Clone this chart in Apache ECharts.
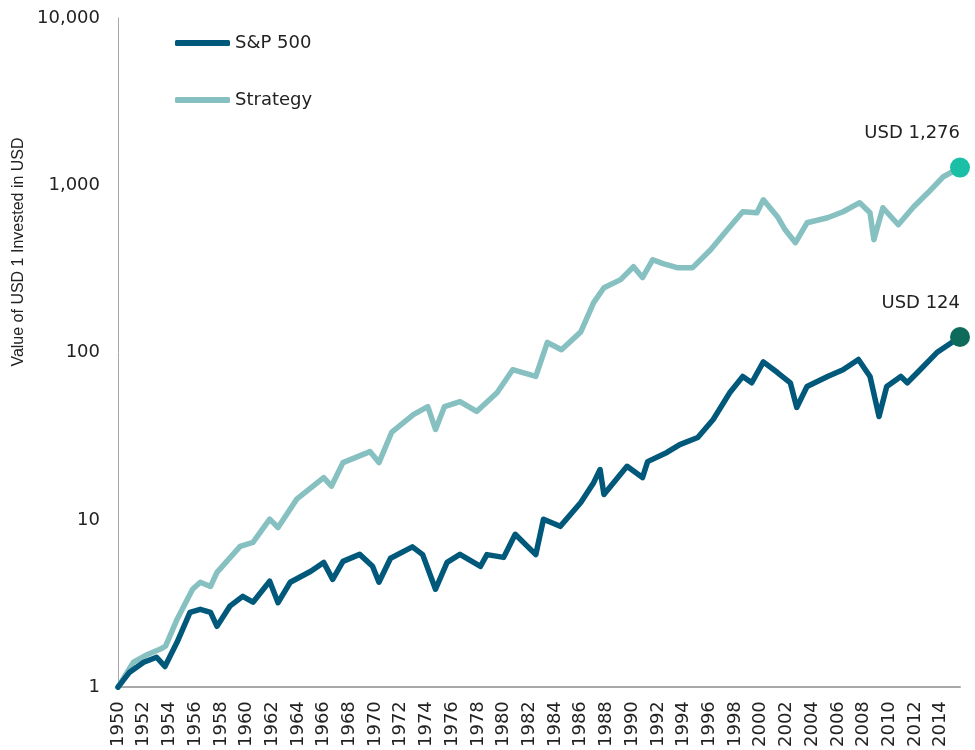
<!DOCTYPE html>
<html>
<head>
<meta charset="utf-8">
<title>Value of USD 1 Invested</title>
<script src="https://cdn.jsdelivr.net/npm/echarts@6/dist/echarts.min.js"></script>
<style>
  html, body { margin: 0; padding: 0; background: #fff; }
  #chart { width: 975px; height: 750px; }
</style>
</head>
<body>
<div id="chart"></div>
<script>
// S&P 500 (year, value of USD 1)
const spYears = [1950.0, 1950.9, 1952.0, 1953.0, 1953.65, 1954.6, 1955.6, 1956.4, 1957.2, 1957.7,
  1958.7, 1959.7, 1960.5, 1961.8, 1962.45, 1963.4, 1965.0, 1966.0, 1966.7, 1967.5,
  1968.8, 1969.8, 1970.3, 1971.2, 1972.9, 1973.7, 1974.7, 1975.6, 1976.6, 1978.2,
  1978.7, 1980.0, 1980.9, 1982.5, 1983.1, 1984.4, 1986.0, 1987.0, 1987.5, 1987.8,
  1989.6, 1990.8, 1991.2, 1992.7, 1993.7, 1995.1, 1996.3, 1997.6, 1998.6, 1999.3,
  2000.2, 2001.3, 2002.3, 2002.8, 2003.6, 2005.2, 2006.4, 2007.6, 2008.5, 2009.2,
  2009.8, 2010.9, 2011.4, 2012.4, 2013.7, 2015.5]
const spValues = [1.0, 1.23, 1.41, 1.51, 1.33, 1.86, 2.8, 2.92, 2.8, 2.31,
  3.05, 3.49, 3.22, 4.3, 3.2, 4.24, 4.93, 5.57, 4.41, 5.65,
  6.22, 5.28, 4.24, 5.9, 6.9, 6.2, 3.85, 5.57, 6.22, 5.28,
  6.2, 5.97, 8.2, 6.2, 10.1, 9.15, 12.7, 16.7, 20, 14.2,
  20.9, 17.9, 22.3, 25.3, 28.2, 31.1, 39.8, 57.7, 72, 66,
  88, 76, 66, 47, 62.7, 72, 79, 91, 72, 41.5,
  62.7, 72, 66, 79, 100, 124]

// Strategy
const stYears = [1950.0, 1951.2, 1952.3, 1953.3, 1953.7, 1954.6, 1955.8, 1956.4, 1957.2, 1957.7,
  1959.5, 1960.5, 1961.8, 1962.45, 1963.9, 1966.0, 1966.6, 1967.5, 1969.6, 1970.3,
  1971.3, 1973.0, 1974.1, 1974.7, 1975.4, 1976.6, 1977.9, 1979.5, 1980.7, 1982.5,
  1983.4, 1984.5, 1986.0, 1987.0, 1987.8, 1989.1, 1990.1, 1990.8, 1991.6, 1992.4,
  1993.5, 1994.7, 1996.1, 1997.4, 1998.6, 1999.7, 2000.2, 2001.3, 2001.9, 2002.7,
  2003.6, 2005.2, 2006.4, 2007.7, 2008.5, 2008.8, 2009.5, 2010.7, 2011.9, 2013.0,
  2014.2, 2015.5]
const stValues = [1.0, 1.41, 1.57, 1.69, 1.76, 2.55, 3.85, 4.24, 4.0, 4.86,
  6.95, 7.34, 10.1, 9.0, 13.3, 17.9, 15.9, 22, 25.6, 22,
  33.5, 42.7, 47.6, 34.7, 47.6, 51, 44.5, 57.7, 79, 72,
  115, 104, 133, 199, 244, 273, 326, 281, 359, 340,
  322, 322, 412, 542, 695, 685, 819, 649, 542, 454,
  597, 640, 695, 787, 685, 473, 734, 581, 745, 902,
  1125, 1276]

const seriesNames = ['S&P 500', 'Strategy']
const endLabels = ['USD 124', 'USD 1,276']
const yTicks = [1, 10, 100, 1000, 10000]

const chartInstance = echarts.init(document.getElementById('chart'))

const pairs = (xs, ys) => xs.map((x, i) => [x, ys[i]])

// big dot plus label on the last point
const endPoint = (xs, ys, text, color) => ({
  symbol: 'circle',
  symbolSize: 20,
  animation: false,
  data: [{
    coord: [xs[xs.length - 1], ys[ys.length - 1]],
    itemStyle: { color: color },
    label: {
      show: true,
      position: 'inside',
      offset: [0, -34],
      align: 'right',
      formatter: text,
      color: '#222',
      fontSize: 18,
      fontFamily: 'DejaVu Sans'
    }
  }]
})

const option = {
  animation: false,
  textStyle: { fontFamily: 'DejaVu Sans' },
  grid: { left: 118, right: 15, top: 18, bottom: 62 },
  legend: {
    orient: 'vertical',
    left: 175,
    top: 34,
    padding: 0,
    itemGap: 39,
    itemWidth: 55,
    itemHeight: 6,
    icon: 'roundRect',
    data: seriesNames,
    textStyle: { fontSize: 18, color: '#222', fontFamily: 'DejaVu Sans' }
  },
  xAxis: {
    type: 'value',
    min: 1950,
    max: 2015.5,
    interval: 2,
    axisLine: { lineStyle: { color: '#a8a8a8', width: 2 } },
    axisTick: { show: false },
    splitLine: { show: false },
    axisLabel: {
      rotate: 90,
      margin: 14,
      fontSize: 18,
      color: '#222',
      showMaxLabel: false,
      formatter: v => String(v)
    }
  },
  yAxis: {
    type: 'log',
    logBase: 10,
    min: yTicks[0],
    max: yTicks[yTicks.length - 1],
    axisLine: { show: true, lineStyle: { color: '#a8a8a8', width: 1 } },
    axisTick: { show: false },
    splitLine: { show: false },
    axisLabel: {
      margin: 18,
      fontSize: 18,
      color: '#222',
      formatter: v => Number(v).toLocaleString('en-US')
    }
  },
  graphic: [{
    type: 'text',
    x: 19,
    y: 252,
    rotation: Math.PI / 2,
    style: {
      text: 'Value of USD 1 Invested in USD',
      font: '16px "Liberation Sans"',
      fill: '#222',
      align: 'center',
      verticalAlign: 'middle'
    }
  }],
  series: [
    {
      name: seriesNames[0],
      type: 'line',
      data: pairs(spYears, spValues),
      showSymbol: false,
      symbol: 'none',
      z: 3,
      color: '#00587a',
      lineStyle: { width: 5.5, color: '#00587a', join: 'round', cap: 'round' },
      markPoint: endPoint(spYears, spValues, endLabels[0], '#0e6a5a')
    },
    {
      name: seriesNames[1],
      type: 'line',
      data: pairs(stYears, stValues),
      showSymbol: false,
      symbol: 'none',
      z: 2,
      color: '#86c0c1',
      lineStyle: { width: 5.5, color: '#86c0c1', join: 'round', cap: 'round' },
      markPoint: endPoint(stYears, stValues, endLabels[1], '#1bbfa6')
    }
  ]
}

chartInstance.setOption(option)
</script>
</body>
</html>
